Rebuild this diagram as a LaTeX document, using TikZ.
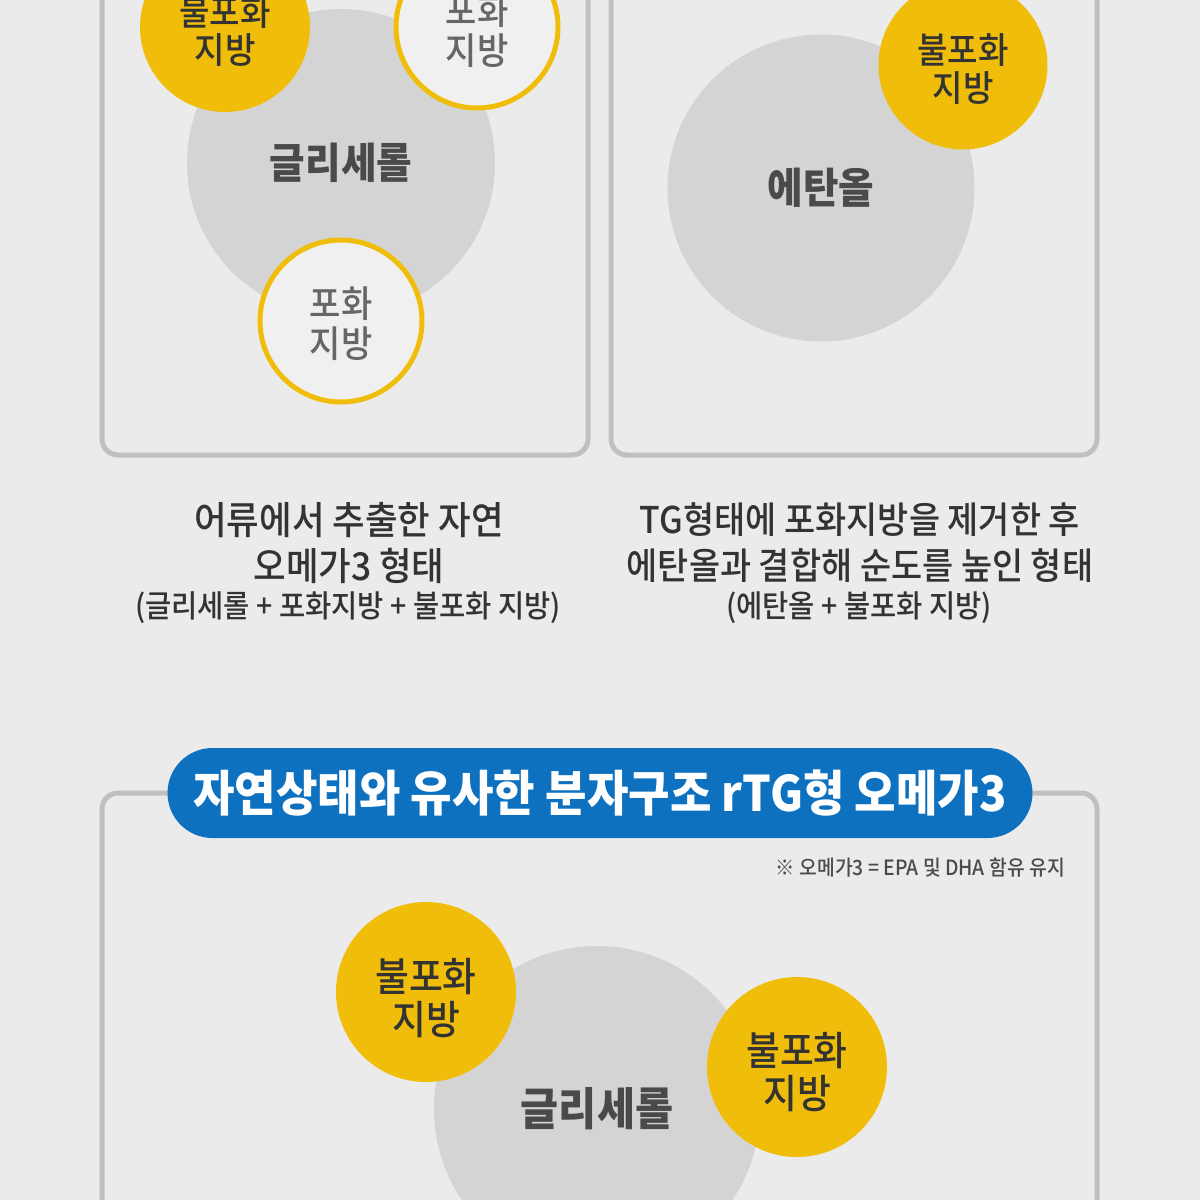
\documentclass[tikz,border=0pt]{standalone}
\usepackage{fontspec}
\setmainfont[FakeStretch=0.92]{Noto Sans CJK KR}
\newfontfamily\medfont[FakeStretch=0.92]{Noto Sans CJK KR Medium}
\usepackage{xcolor}
\usetikzlibrary{positioning}
\definecolor{bgcol}{HTML}{EBEBEB}
\definecolor{boxcol}{HTML}{C0C0C0}
\definecolor{glycol}{HTML}{D4D4D4}
\definecolor{fatcol}{HTML}{F0BE0A}
\definecolor{ringfill}{HTML}{F0F0F0}
\definecolor{bluecol}{HTML}{0E71C0}
\definecolor{darktext}{HTML}{333333}
\definecolor{greytext}{HTML}{4A4A4A}
\newcommand{\fs}[1]{\fontsize{#1}{1.08\dimexpr#1pt\relax}\selectfont}

\begin{document}
\begin{tikzpicture}[x=1pt,y=-1pt,
    box/.style={draw=boxcol,line width=5pt,rounded corners=16pt,fill=bgcol},
    base circle/.style={circle,fill=glycol,inner sep=0pt,text=greytext,font=\fs{42}\bfseries},
    fat circle/.style={circle,fill=fatcol,inner sep=0pt},
    ring circle/.style={circle,draw=fatcol,line width=5pt,fill=ringfill,inner sep=0pt},
    fat text/.style={align=center,inner sep=0pt,text=darktext,font=\medfont\fs{36}},
    ring text/.style={align=center,inner sep=0pt,text=black!60,font=\medfont\fs{37}},
    caption/.style={font=\medfont\fs{38.5},text=darktext,inner sep=0pt},
    subcaption/.style={font=\medfont\fs{31},text=darktext,inner sep=0pt}]

\useasboundingbox (0,0) rectangle (1200,1200);
\fill[bgcol] (0,0) rectangle (1200,1200);

% natural TG form
\draw[box] (102,-40) rectangle (588,455);
\node[base circle,minimum size=308pt] (glyA) at (341,163) {글리세롤};
\node[fat circle,minimum size=170pt] (unsatA) at (225,27) {};
\node[fat text] (unsatAtext) at ([yshift=-4pt]unsatA.center) {불포화\\지방};
\node[ring circle,minimum size=162pt] (satA1) at (477,27) {};
\node[ring text] (satA1text) at ([yshift=-4pt]satA1.center) {포화\\지방};
\node[ring circle,minimum size=162pt] (satA2) at (341,321) {};
\node[ring text] (satA2text) at ([yshift=-3pt]satA2.center) {포화\\지방};

% EE form
\draw[box] (611,-40) rectangle (1097,455);
\node[base circle,minimum size=307pt] (ethB) at (821,188) {에탄올};
\node[fat circle,minimum size=169pt] (unsatB) at (963,65) {};
\node[fat text] (unsatBtext) at ([yshift=-4pt]unsatB.center) {불포화\\지방};

% captions
\node[caption] (capA1) at (349,520) {어류에서 추출한 자연};
\node[caption] (capA2) at (349,566) {오메가3 형태};
\node[subcaption] (capA3) at (348,608) {(글리세롤 + 포화지방 + 불포화 지방)};
\node[caption,font=\medfont\fs{36.8}] (capB1) at (860,520) {TG형태에 포화지방을 제거한 후};
\node[caption,font=\medfont\fs{36.8}] (capB2) at (860,566) {에탄올과 결합해 순도를 높인 형태};
\node[subcaption] (capB3) at (859,608) {(에탄올 + 불포화 지방)};

% rTG form
\draw[box] (102,793) rectangle (1097,1260);
\node[fill=bluecol,rounded corners=45pt,minimum width=865pt,minimum height=90pt,
      text=white,font=\fs{49}\bfseries] (title) at (600,793) {자연상태와 유사한 분자구조 rTG형 오메가3};
\node[anchor=east,font=\medfont\fs{21},text=greytext,inner sep=0pt] (note) at (1065,868) {※ 오메가3 = EPA 및 DHA 함유 유지};

\node[base circle,minimum size=326pt,font=\fs{45}\bfseries] (glyC) at (597,1109) {글리세롤};
\node[fat circle,minimum size=180pt] (unsatC1) at (426,992) {};
\node[fat text,font=\medfont\fs{40}] (unsatC1text) at ([yshift=-6pt]unsatC1.center) {불포화\\지방};
\node[fat circle,minimum size=180pt] (unsatC2) at (797,1067) {};
\node[fat text,font=\medfont\fs{40}] (unsatC2text) at ([yshift=-5pt]unsatC2.center) {불포화\\지방};
\end{tikzpicture}
\end{document}
